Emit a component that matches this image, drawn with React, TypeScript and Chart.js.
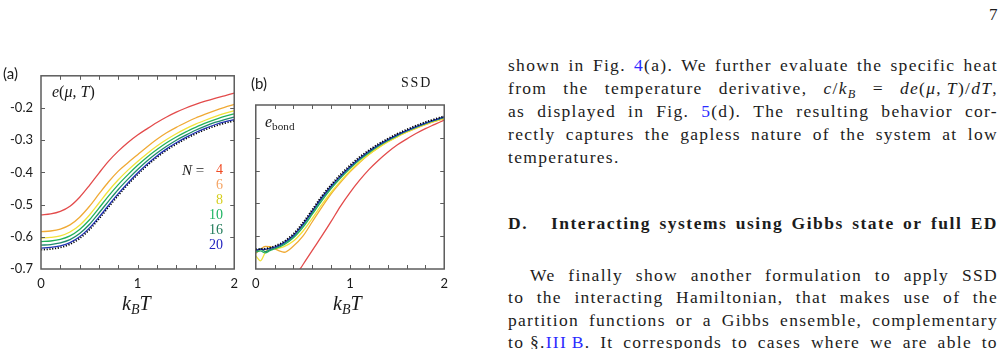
import React, { useEffect, useRef } from "react";
import { Chart, registerables } from "chart.js";
Chart.register(...registerables);

// ---------- Panel (a): e(mu,T) ----------
const T_A = [0, 0.1, 0.2, 0.3, 0.4, 0.5, 0.6, 0.7, 0.8, 0.9, 1.0, 1.1, 1.2, 1.3, 1.4, 1.5, 1.6, 1.7, 1.8, 1.9, 2.0];
const A_N4 = [-0.532, -0.529, -0.521, -0.505, -0.477, -0.441, -0.402, -0.365, -0.334, -0.307, -0.284, -0.264, -0.245, -0.228, -0.213, -0.200, -0.189, -0.179, -0.170, -0.162, -0.154];
const A_N6 = [-0.584, -0.582, -0.576, -0.563, -0.539, -0.506, -0.467, -0.429, -0.396, -0.370, -0.345, -0.320, -0.297, -0.277, -0.260, -0.245, -0.231, -0.219, -0.208, -0.198, -0.189];
const A_N8 = [-0.604, -0.602, -0.597, -0.585, -0.564, -0.533, -0.495, -0.457, -0.423, -0.393, -0.366, -0.341, -0.318, -0.298, -0.280, -0.264, -0.250, -0.238, -0.227, -0.217, -0.208];
const A_N10 = [-0.615, -0.613, -0.608, -0.597, -0.577, -0.548, -0.511, -0.473, -0.438, -0.407, -0.378, -0.352, -0.329, -0.308, -0.290, -0.274, -0.260, -0.247, -0.236, -0.226, -0.218];
const A_N16 = [-0.626, -0.624, -0.619, -0.609, -0.590, -0.562, -0.526, -0.489, -0.453, -0.421, -0.391, -0.364, -0.340, -0.319, -0.300, -0.284, -0.269, -0.256, -0.245, -0.236, -0.228];
const A_N20 = [-0.635, -0.633, -0.628, -0.618, -0.600, -0.573, -0.539, -0.502, -0.466, -0.433, -0.402, -0.374, -0.349, -0.327, -0.308, -0.291, -0.276, -0.263, -0.252, -0.243, -0.236];
const A_EXACT = [-0.640, -0.638, -0.633, -0.623, -0.605, -0.578, -0.544, -0.507, -0.471, -0.437, -0.406, -0.378, -0.353, -0.331, -0.312, -0.295, -0.280, -0.267, -0.256, -0.247, -0.240];

// ---------- Panel (b): e_bond (SSD) ----------
const T_B = [0, 0.05, 0.1, 0.15, 0.2, 0.25, 0.3, 0.4, 0.5, 0.6, 0.7, 0.8, 0.9, 1.0, 1.1, 1.2, 1.3, 1.4, 1.5, 1.6, 1.7, 1.8, 1.9, 2.0];
const T_B_N4 = [0.3, 0.4, 0.5, 0.6, 0.7, 0.8, 0.9, 1.0, 1.1, 1.2, 1.3, 1.4, 1.5, 1.6, 1.7, 1.8, 1.9, 2.0];
const B_N4 = [-0.780, -0.731, -0.687, -0.643, -0.600, -0.555, -0.508, -0.467, -0.430, -0.397, -0.369, -0.344, -0.322, -0.304, -0.287, -0.272, -0.259, -0.246];
const B_N6 = [-0.652, -0.640, -0.631, -0.632, -0.638, -0.645, -0.649, -0.630, -0.600, -0.556, -0.512, -0.471, -0.436, -0.404, -0.376, -0.351, -0.330, -0.312, -0.297, -0.283, -0.271, -0.260, -0.250, -0.242];
const B_N8 = [-0.660, -0.675, -0.650, -0.634, -0.637, -0.636, -0.632, -0.615, -0.585, -0.546, -0.504, -0.466, -0.432, -0.401, -0.374, -0.351, -0.331, -0.313, -0.297, -0.283, -0.270, -0.259, -0.249, -0.240];
const B_N10 = [-0.648, -0.645, -0.651, -0.644, -0.639, -0.633, -0.626, -0.605, -0.573, -0.533, -0.492, -0.455, -0.423, -0.394, -0.368, -0.346, -0.326, -0.309, -0.294, -0.280, -0.268, -0.257, -0.247, -0.238];
const B_N16 = [-0.646, -0.639, -0.647, -0.641, -0.636, -0.630, -0.622, -0.600, -0.567, -0.527, -0.486, -0.450, -0.419, -0.390, -0.365, -0.343, -0.324, -0.307, -0.292, -0.279, -0.267, -0.256, -0.246, -0.237];
const B_N20 = [-0.642, -0.640, -0.640, -0.637, -0.633, -0.627, -0.619, -0.597, -0.563, -0.523, -0.482, -0.447, -0.416, -0.388, -0.363, -0.341, -0.322, -0.306, -0.291, -0.278, -0.266, -0.255, -0.245, -0.236];
const B_EXACT = [-0.640, -0.639, -0.638, -0.635, -0.630, -0.624, -0.616, -0.593, -0.559, -0.519, -0.478, -0.443, -0.412, -0.384, -0.359, -0.338, -0.319, -0.303, -0.288, -0.275, -0.263, -0.252, -0.243, -0.234];

// ---------- ticks / labels ----------
const X_TICK_MARKS = [0.2, 0.4, 0.6, 0.8, 1.0, 1.2, 1.4, 1.6, 1.8];
const Y_TICK_MARKS_A = [-0.6, -0.5, -0.4, -0.3, -0.2];
const Y_TICK_MARKS_B = [-0.6, -0.5, -0.4, -0.3];
const SIZES = ["4", "6", "8", "10", "16", "20"];

const LINE_COLORS = ["#e34b4b", "#f0aa35", "#f2e23a", "#22b25a", "#1e8a6c", "#2233b5"];
const LABEL_COLORS = ["#f04a22", "#f5a464", "#d6cf1e", "#1db462", "#1f7a58", "#2424c0"];

const SERIF = "'Liberation Serif', 'Times New Roman', serif";
const SANS = "Lato, 'Open Sans', sans-serif";

const zip = (xs: number[], ys: number[]) => xs.map((x, i) => ({ x, y: ys[i] }));

const frameTicks = (xs: number[], ys: number[]) => ({
  id: "frameTicks",
  afterDraw(chart: any) {
    const { ctx, chartArea, scales } = chart;
    const { left, right, top, bottom } = chartArea;
    ctx.save();
    ctx.strokeStyle = "#5c5c5c";
    ctx.lineWidth = 1.5;
    ctx.strokeRect(left, top, right - left, bottom - top);
    ctx.lineWidth = 1;
    ctx.beginPath();
    xs.forEach((v) => {
      const p = Math.round(scales.x.getPixelForValue(v)) + 0.5;
      ctx.moveTo(p, bottom);
      ctx.lineTo(p, bottom - 4);
      ctx.moveTo(p, top);
      ctx.lineTo(p, top + 4);
    });
    ys.forEach((v) => {
      const p = Math.round(scales.y.getPixelForValue(v)) + 0.5;
      ctx.moveTo(left, p);
      ctx.lineTo(left + 4, p);
      ctx.moveTo(right, p);
      ctx.lineTo(right - 4, p);
    });
    ctx.stroke();
    ctx.restore();
  },
});

const lineDs = (data: any[], color: string, extra: any = {}) => ({
  data,
  borderColor: color,
  backgroundColor: color,
  borderWidth: 1.3,
  pointRadius: 0,
  fill: false,
  cubicInterpolationMode: "monotone",
  ...extra,
});

const EXACT_STYLE = { borderDash: [1.2, 1.6], borderWidth: 1.8 };

function makeConfig(panel: "a" | "b"): any {
  const isA = panel === "a";
  // first dataset is drawn on top in Chart.js
  const datasets = isA
    ? [
        lineDs(zip(T_A, A_N20), LINE_COLORS[5]),
        lineDs(zip(T_A, A_N16), LINE_COLORS[4]),
        lineDs(zip(T_A, A_N10), LINE_COLORS[3]),
        lineDs(zip(T_A, A_N8), LINE_COLORS[2]),
        lineDs(zip(T_A, A_N6), LINE_COLORS[1]),
        lineDs(zip(T_A, A_N4), LINE_COLORS[0]),
        lineDs(zip(T_A, A_EXACT), "#000000", EXACT_STYLE),
      ]
    : [
        lineDs(zip(T_B, B_EXACT), "#000000", EXACT_STYLE),
        lineDs(zip(T_B, B_N20), LINE_COLORS[5]),
        lineDs(zip(T_B, B_N16), LINE_COLORS[4]),
        lineDs(zip(T_B, B_N10), LINE_COLORS[3]),
        lineDs(zip(T_B, B_N8), LINE_COLORS[2]),
        lineDs(zip(T_B, B_N6), LINE_COLORS[1]),
        lineDs(zip(T_B_N4, B_N4), LINE_COLORS[0]),
      ];
  return {
    type: "line",
    data: { datasets },
    options: {
      animation: false,
      responsive: false,
      maintainAspectRatio: false,
      devicePixelRatio: 1,
      layout: { padding: { top: isA ? 12 : 10, right: 6, left: 0, bottom: 0 } },
      plugins: { legend: { display: false }, tooltip: { enabled: false } },
      scales: {
        x: {
          type: "linear",
          min: 0,
          max: 2,
          grid: { display: false, drawTicks: false },
          border: { display: false },
          ticks: {
            stepSize: 1,
            padding: 7,
            maxRotation: 0,
            color: "#1a1a1a",
            font: { family: SANS, size: 13 },
            callback: (v: number) => String(v),
          },
          afterFit: (s: any) => {
            s.height = 26;
          },
        },
        y: {
          type: "linear",
          min: -0.7,
          max: isA ? -0.1 : -0.2,
          grid: { display: false, drawTicks: false },
          border: { display: false },
          ticks: {
            display: isA,
            stepSize: 0.1,
            padding: 8,
            color: "#1a1a1a",
            font: { family: SANS, size: 13 },
            callback: (v: number) => (v > -0.15 ? "" : v.toFixed(1)),
          },
          afterFit: (s: any) => {
            s.width = isA ? 41 : 7;
          },
        },
      },
    },
    plugins: [frameTicks(X_TICK_MARKS, isA ? Y_TICK_MARKS_A : Y_TICK_MARKS_B)],
  };
}

function Panel({ panel, left, top, width, height }: any) {
  const ref = useRef<HTMLCanvasElement>(null);
  useEffect(() => {
    const c = new Chart(ref.current as HTMLCanvasElement, makeConfig(panel));
    return () => c.destroy();
  }, [panel]);
  return (
    <canvas
      ref={ref}
      width={width}
      height={height}
      style={{ position: "absolute", left, top, width, height }}
    />
  );
}

const abs = (left: number, top: number, extra: any = {}): any => ({
  position: "absolute",
  left,
  top,
  whiteSpace: "nowrap",
  ...extra,
});

const SUB: any = { fontSize: "0.7em", verticalAlign: "-0.3em", lineHeight: 0, fontStyle: "normal" };
const SUBI: any = { ...SUB, fontStyle: "italic" };
const LINK: any = { color: "#2b2bff" };

// body text: 17.5px / 23px line height -> baseline = top + 17.4
const FS = 17.5;
const BASE = 17.4;
function TextLine({ top, left = 508, width = 490, words, last = false, bold = false }: any) {
  return (
    <div
      style={{
        position: "absolute",
        left,
        top: top - BASE,
        width,
        height: 23,
        display: "flex",
        alignItems: "baseline",
        justifyContent: last ? "flex-start" : "space-between",
        gap: last ? "6px" : undefined,
        whiteSpace: "nowrap",
        fontFamily: SERIF,
        fontSize: FS,
        lineHeight: "23px",
        letterSpacing: bold ? "1.5px" : "1.3px",
        color: "#1c1c1c",
        fontWeight: bold ? "bold" : "normal",
      } as any}
    >
      {words.map((w: any, i: number) => (
        <span key={i}>{w}</span>
      ))}
    </div>
  );
}

const sp = (s: string) => s.split(" ");

export default function App() {
  return (
    <div
      style={{
        position: "absolute",
        left: 0,
        top: 0,
        width: 1004,
        height: 349,
        overflow: "hidden",
        background: "#ffffff",
      }}
    >
      <Panel panel="a" left={0} top={60} width={245} height={235} />
      <Panel panel="b" left={245} top={95} width={210} height={200} />

      {/* panel annotations */}
      <div style={abs(3, 64, { fontFamily: SANS, fontSize: 15, lineHeight: "18px", color: "#1a1a1a" })}>(a)</div>
      <div style={abs(251, 74, { fontFamily: SANS, fontSize: 15, lineHeight: "18px", color: "#1a1a1a" })}>(b)</div>
      <div style={abs(401, 75, { fontFamily: SERIF, fontSize: 14, lineHeight: "16px", letterSpacing: "1.8px", color: "#1a1a1a" })}>SSD</div>
      <div style={abs(52, 83, { fontFamily: SERIF, fontSize: 16, lineHeight: "18px", color: "#1a1a1a" })}>
        <i>e</i>(<i>μ</i>, <i>T</i>)
      </div>
      <div style={abs(265, 113, { fontFamily: SERIF, fontSize: 16, lineHeight: "18px", color: "#1a1a1a" })}>
        <i>e</i>
        <span style={SUB}>bond</span>
      </div>

      {/* N legend */}
      <div style={abs(182, 162, { fontFamily: SERIF, fontSize: 15, lineHeight: "16px", color: "#1a1a1a" })}>
        <i>N</i> =
      </div>
      {SIZES.map((s, i) => (
        <div
          key={s}
          style={abs(190, 162 + i * 15, {
            width: 33,
            textAlign: "right",
            fontFamily: SERIF,
            fontSize: 14,
            lineHeight: "16px",
            color: LABEL_COLORS[i],
          })}
        >
          {s}
        </div>
      ))}

      {/* axis titles */}
      <div style={abs(122, 292, { fontFamily: SERIF, fontSize: 20, lineHeight: "22px", color: "#1a1a1a" })}>
        <i>k</i>
        <span style={SUBI}>B</span>
        <i>T</i>
      </div>
      <div style={abs(333, 292, { fontFamily: SERIF, fontSize: 20, lineHeight: "22px", color: "#1a1a1a" })}>
        <i>k</i>
        <span style={SUBI}>B</span>
        <i>T</i>
      </div>

      {/* page number */}
      <div style={abs(989, 5, { fontFamily: SERIF, fontSize: 17, lineHeight: "20px", color: "#1c1c1c" })}>7</div>

      {/* right column text */}
      <TextLine
        top={71.7}
        words={[
          ...sp("shown in Fig."),
          <>
            <span style={LINK}>4</span>(a).
          </>,
          ...sp("We further evaluate the specific heat"),
        ]}
      />
      <TextLine
        top={94.5}
        words={[
          ...sp("from the temperature derivative,"),
          <>
            <i>c</i>/<i>k</i>
            <span style={SUBI}>B</span>
          </>,
          "=",
          <>
            <i>de</i>(<i>μ</i>,&#8201;<i>T</i>)/<i>dT</i>,
          </>,
        ]}
      />
      <TextLine
        top={117.3}
        words={[
          ...sp("as displayed in Fig."),
          <>
            <span style={LINK}>5</span>(d).
          </>,
          ...sp("The resulting behavior cor-"),
        ]}
      />
      <TextLine top={140} words={sp("rectly captures the gapless nature of the system at low")} />
      <TextLine top={163} last words={["temperatures."]} />

      <TextLine top={229} left={508} width={40} last bold words={["D."]} />
      <TextLine top={229} left={551} width={447} bold words={sp("Interacting systems using Gibbs state or full ED")} />

      <TextLine top={281} left={530} width={468} words={sp("We finally show another formulation to apply SSD")} />
      <TextLine top={303.5} words={sp("to the interacting Hamiltonian, that makes use of the")} />
      <TextLine top={326} words={sp("partition functions or a Gibbs ensemble, complementary")} />
      <TextLine
        top={348.5}
        words={[
          <>
            to §.<span style={LINK}>III&#8201;B</span>.
          </>,
          ...sp("It corresponds to cases where we are able to"),
        ]}
      />
    </div>
  );
}
